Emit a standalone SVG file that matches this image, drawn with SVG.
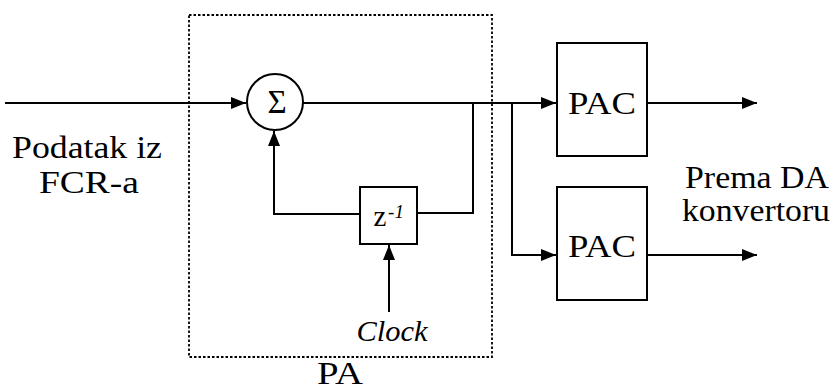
<svg xmlns="http://www.w3.org/2000/svg" width="833" height="390" viewBox="0 0 833 390">
<defs>
<marker id="arr" markerWidth="16" markerHeight="12" refX="15" refY="6" orient="auto" markerUnits="userSpaceOnUse">
<path d="M0,0 L15,6 L0,12 z" fill="#000"/>
</marker>
</defs>
<style>
.ln{fill:none;stroke:#000;stroke-width:2}
.box{fill:#fff;stroke:#000;stroke-width:2}
.t{fill:#000;text-anchor:middle;font-family:"Liberation Serif","DejaVu Serif",serif}
</style>
<rect width="833" height="390" fill="#fff"/>
<g id="PA">
<rect x="189" y="15" width="303" height="342" fill="none" stroke="#000" stroke-width="1.8" stroke-dasharray="2.5,2"/>
<text class="t" x="340" y="384" font-size="31" textLength="46" lengthAdjust="spacingAndGlyphs">PA</text>
</g>
<g id="connectors">
<line class="ln" x1="5" y1="103" x2="246" y2="103" marker-end="url(#arr)"/>
<line class="ln" x1="303" y1="103" x2="556" y2="103" marker-end="url(#arr)"/>
<polyline class="ln" points="512,103 512,255 556,255" marker-end="url(#arr)"/>
<polyline class="ln" points="473,103 473,213 417,213"/>
<polyline class="ln" points="360,214 274,214 274,131" marker-end="url(#arr)"/>
<line class="ln" x1="389" y1="312" x2="389" y2="245" marker-end="url(#arr)"/>
<line class="ln" x1="647" y1="103" x2="757" y2="103" marker-end="url(#arr)"/>
<line class="ln" x1="647" y1="255" x2="757" y2="255" marker-end="url(#arr)"/>
</g>
<g id="sum">
<circle class="box" cx="275" cy="102" r="28"/>
<text class="t" x="277" y="113" font-size="33">Σ</text>
</g>
<g id="delay">
<rect class="box" x="360" y="187" width="57" height="57"/>
<text class="t" x="380" y="226" font-size="29">z</text>
<text class="t" x="396" y="218" font-size="19" font-style="italic">-1</text>
</g>
<g id="clock">
<text class="t" x="392" y="341" font-size="29" font-style="italic" textLength="71" lengthAdjust="spacingAndGlyphs">Clock</text>
</g>
<g id="pac1">
<rect class="box" x="557" y="43" width="90" height="113"/>
<text class="t" x="602" y="114" font-size="32" textLength="68" lengthAdjust="spacingAndGlyphs">PAC</text>
</g>
<g id="pac2">
<rect class="box" x="557" y="187" width="90" height="113"/>
<text class="t" x="602" y="257" font-size="32" textLength="68" lengthAdjust="spacingAndGlyphs">PAC</text>
</g>
<g id="input">
<text class="t" x="87" y="158" font-size="32" textLength="150" lengthAdjust="spacingAndGlyphs">Podatak iz</text>
<text class="t" x="89" y="193" font-size="32" textLength="100" lengthAdjust="spacingAndGlyphs">FCR-a</text>
</g>
<g id="output">
<text class="t" x="757" y="188" font-size="31" textLength="144" lengthAdjust="spacingAndGlyphs">Prema DA</text>
<text class="t" x="756" y="221" font-size="31" textLength="148" lengthAdjust="spacingAndGlyphs">konvertoru</text>
</g>
</svg>
